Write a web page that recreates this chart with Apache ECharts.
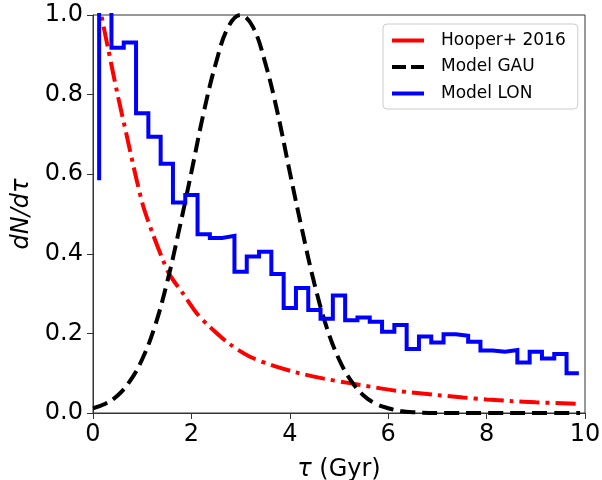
<!DOCTYPE html>
<html>
<head>
<meta charset="utf-8">
<script src="https://cdn.jsdelivr.net/npm/echarts@6/dist/echarts.min.js"></script>
<style>
html,body{margin:0;padding:0;background:#fff;}
#c{width:602px;height:480px;}
</style>
</head>
<body>
<div id="c"></div>
<script>
// Hooper+ 2016 curve
const hooperX = [0.10, 0.17, 0.30, 0.50, 0.68, 0.86, 1.02, 1.20, 1.42, 1.56, 1.83, 2.10, 2.37, 2.78, 3.18, 3.66, 4.13, 4.67, 5.22, 6.17, 7.00, 7.52, 8.00, 8.50, 9.00, 9.85];
const hooperY = [1.06, 1.00, 0.92, 0.80, 0.70, 0.60, 0.52, 0.455, 0.385, 0.347, 0.300, 0.252, 0.217, 0.173, 0.142, 0.119, 0.102, 0.087, 0.075, 0.056, 0.045, 0.039, 0.034, 0.030, 0.027, 0.023];

// Model GAU curve
const gauX = [0, 0.25, 0.5, 0.75, 1, 1.25, 1.5, 1.75, 2, 2.25, 2.5, 2.75, 3, 3.25, 3.5, 3.75, 4, 4.25, 4.5, 4.75, 5, 5.25, 5.5, 5.75, 6, 6.25, 6.5, 7, 8, 9, 9.9];
const gauY = [0.012, 0.023, 0.044, 0.08, 0.135, 0.215, 0.325, 0.46, 0.605, 0.755, 0.88, 0.97, 1.0, 0.97, 0.88, 0.755, 0.605, 0.46, 0.325, 0.215, 0.135, 0.08, 0.044, 0.023, 0.012, 0.005, 0.002, 0, 0, 0, 0];

// Model LON histogram (bin edges, step drawn at start)
const lonEdges = [0.125, 0.375, 0.625, 0.875, 1.125, 1.375, 1.625, 1.875, 2.125, 2.375,
                  2.625, 2.875, 3.125, 3.375, 3.625, 3.875, 4.125, 4.375, 4.625, 4.875,
                  5.125, 5.375, 5.625, 5.875, 6.125, 6.375, 6.625, 6.875, 7.125, 7.375,
                  7.625, 7.875, 8.125, 8.375, 8.625, 8.875, 9.125, 9.375, 9.625, 9.875];
const lonValues = [0.585, 1.25, 0.918, 0.931, 0.753, 0.694, 0.626, 0.529, 0.548, 0.449,
                   0.440, 0.445, 0.355, 0.393, 0.405, 0.349, 0.264, 0.314, 0.259, 0.237,
                   0.295, 0.233, 0.240, 0.229, 0.204, 0.221, 0.161, 0.192, 0.177, 0.198,
                   0.194, 0.179, 0.157, 0.154, 0.158, 0.127, 0.154, 0.137, 0.148, 0.100];

const seriesNames = ['Hooper+ 2016', 'Model GAU', 'Model LON'];
const xTicks = {min: 0, max: 10, interval: 2};
const yTicks = {min: 0, max: 1, interval: 0.2};

const zip = (a, b) => a.map((v, i) => [v, b[i]]);
const font = 'DejaVu Sans';

const chart = echarts.init(document.getElementById('c'), null, {renderer: 'canvas'});
chart.setOption({
  backgroundColor: '#fff',
  animation: false,
  grid: {left: 93, right: 17, top: 15, bottom: 67, show: true, borderColor: '#333', borderWidth: 1,
         containLabel: false, outerBoundsMode: 'none'},
  legend: {
    orient: 'vertical', left: 383, top: 24,
    padding: [8, 12, 7, 7],
    itemGap: 9.5, itemWidth: 32, itemHeight: 19,
    backgroundColor: '#fff', borderColor: '#ccc', borderWidth: 1, borderRadius: 4,
    itemStyle: {opacity: 0},
    lineStyle: {width: 4},
    textStyle: {fontFamily: font, fontSize: 17, color: '#000', padding: [0, 0, 0, 12]},
    data: [
      {name: seriesNames[0], lineStyle: {type: 'solid', width: 4}},
      {name: seriesNames[1], lineStyle: {type: [14, 5], width: 4}},
      {name: seriesNames[2], lineStyle: {width: 4}}
    ]
  },
  xAxis: {
    type: 'value', min: xTicks.min, max: xTicks.max, interval: xTicks.interval,
    name: '{i|τ} (Gyr)', nameLocation: 'middle', nameGap: 45,
    nameTextStyle: {fontFamily: font, fontSize: 24, color: '#000',
      rich: {i: {fontFamily: font, fontSize: 24, fontStyle: 'italic', color: '#000'}}},
    axisLine: {show: true, lineStyle: {color: '#333', width: 1}},
    axisTick: {show: true, inside: false, length: 6, lineStyle: {color: '#333', width: 1}},
    axisLabel: {fontFamily: font, fontSize: 24, color: '#000', margin: 10},
    splitLine: {show: false}
  },
  yAxis: {
    type: 'value', min: yTicks.min, max: yTicks.max, interval: yTicks.interval,
    name: 'dN/dτ', nameLocation: 'middle', nameGap: 58,
    nameTextStyle: {fontFamily: font, fontSize: 24, color: '#000', fontStyle: 'italic'},
    axisLine: {show: true, lineStyle: {color: '#333', width: 1}},
    axisTick: {show: true, inside: false, length: 6, lineStyle: {color: '#333', width: 1}},
    axisLabel: {fontFamily: font, fontSize: 24, color: '#000', margin: 10, formatter: v => v.toFixed(1)},
    splitLine: {show: false}
  },
  series: [
    {
      name: seriesNames[0], type: 'line', data: zip(hooperX, hooperY),
      showSymbol: false, symbol: 'none', smooth: 0.3, clip: true,
      lineStyle: {color: '#ff0000', width: 4, type: [20, 6, 4, 6]},
      itemStyle: {color: '#ff0000'}
    },
    {
      name: seriesNames[1], type: 'line', data: zip(gauX, gauY),
      showSymbol: false, symbol: 'none', smooth: 0.4, clip: true,
      lineStyle: {color: '#000', width: 4, type: [15, 7]},
      itemStyle: {color: '#000'}
    },
    {
      name: seriesNames[2], type: 'line', data: zip(lonEdges, lonValues),
      showSymbol: false, symbol: 'none', step: 'start', clip: true,
      lineStyle: {color: '#0000ff', width: 4, join: 'miter'},
      itemStyle: {color: '#0000ff'}
    }
  ]
});
</script>
</body>
</html>
